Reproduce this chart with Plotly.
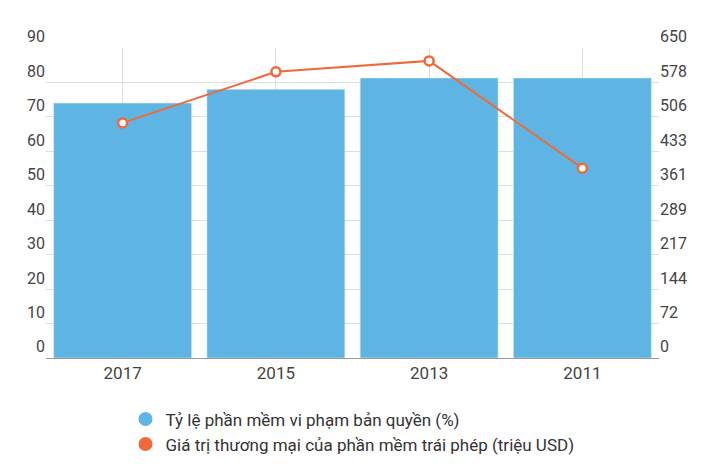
import plotly.graph_objects as go

years = ["2017", "2015", "2013", "2011"]
rate = [74, 78, 81.3, 81.3]
value = [493, 600, 623, 398]
left_ticks = [0, 10, 20, 30, 40, 50, 60, 70, 80, 90]
right_ticks = [0, 72, 144, 217, 289, 361, 433, 506, 578, 650]
names = ["Tỷ lệ phần mềm vi phạm bản quyền (%)",
         "Giá trị thương mại của phần mềm trái phép (triệu USD)"]
BLUE, ORANGE = "#5eb5e3", "#ee6a3a"

fig = go.Figure()
fig.add_trace(go.Bar(x=years, y=rate, marker_color=BLUE, showlegend=False))
fig.add_trace(go.Scatter(x=years, y=value, yaxis="y2", mode="lines+markers", showlegend=False,
                         line=dict(color=ORANGE, width=2),
                         marker=dict(color="white", size=9, line=dict(color=ORANGE, width=2.5))))
for n, c in zip(names, [BLUE, ORANGE]):
    fig.add_trace(go.Scatter(x=[None], y=[None], mode="markers", name=n,
                             marker=dict(color=c, size=14, symbol="circle")))
fig.update_layout(
    width=703, height=474, plot_bgcolor="white", paper_bgcolor="white",
    font=dict(family="Roboto", size=16, color="#444"),
    margin=dict(l=38, r=52, t=40, b=124),
    bargap=0.1,
    xaxis=dict(showgrid=True, gridcolor="#ddd", showline=True, linecolor="#999",
               tickfont=dict(size=17)),
    yaxis=dict(range=[0, 90], tickvals=left_ticks, gridcolor="#ddd", zeroline=False,
               ticklabelposition="outside top", ticklen=0),
    yaxis2=dict(range=[0, 650], tickvals=right_ticks, overlaying="y", side="right",
                showgrid=False, zeroline=False, ticklabelposition="outside top"),
    legend=dict(orientation="v", x=0.5, xanchor="center", y=-0.14, yanchor="top",
                font=dict(size=17, color="#333"), tracegroupgap=14),
)
fig.write_html("out.html")
